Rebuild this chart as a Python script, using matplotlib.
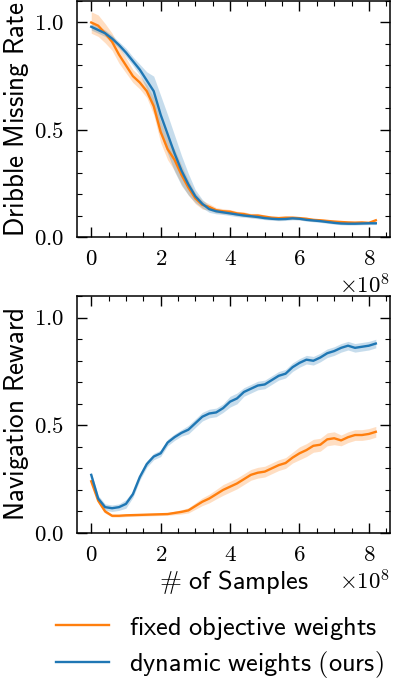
import matplotlib

matplotlib.use("Agg")
import matplotlib.pyplot as plt
import numpy as np

# training samples (x 1e8)
samples = [0.0, 0.2, 0.4, 0.6, 0.8, 1.0, 1.2, 1.4, 1.6, 1.8, 2.0, 2.2, 2.4, 2.6,
           2.8, 3.0, 3.2, 3.4, 3.6, 3.8, 4.0, 4.2, 4.4, 4.6, 4.8, 5.0, 5.2, 5.4,
           5.6, 5.8, 6.0, 6.2, 6.4, 6.6, 6.8, 7.0, 7.2, 7.4, 7.6, 7.8, 8.0, 8.2]

# dribble missing rate
dribble_fixed = [1.00, 0.985, 0.95, 0.91, 0.85, 0.80, 0.75, 0.72, 0.68, 0.61, 0.49, 0.41,
                 0.36, 0.29, 0.23, 0.18, 0.15, 0.14, 0.125, 0.12, 0.118, 0.11, 0.107, 0.10,
                 0.10, 0.095, 0.09, 0.088, 0.09, 0.09, 0.088, 0.085, 0.08, 0.078, 0.075,
                 0.072, 0.07, 0.068, 0.067, 0.068, 0.066, 0.078]
dribble_fixed_std = [0.05, 0.05, 0.045, 0.04, 0.04, 0.035, 0.03, 0.03, 0.03, 0.04, 0.05, 0.05,
                     0.05, 0.045, 0.035, 0.025, 0.02, 0.015, 0.012, 0.012, 0.01, 0.01, 0.01,
                     0.01, 0.01, 0.008, 0.008, 0.008, 0.008, 0.008, 0.007, 0.007, 0.007,
                     0.006, 0.006, 0.006, 0.006, 0.006, 0.006, 0.006, 0.006, 0.006]
dribble_dynamic = [0.98, 0.965, 0.95, 0.925, 0.895, 0.86, 0.82, 0.78, 0.73, 0.68, 0.57, 0.48,
                   0.39, 0.31, 0.245, 0.19, 0.155, 0.13, 0.12, 0.115, 0.11, 0.105, 0.10, 0.097,
                   0.093, 0.088, 0.085, 0.083, 0.084, 0.087, 0.085, 0.08, 0.077, 0.074, 0.07,
                   0.066, 0.063, 0.062, 0.062, 0.063, 0.064, 0.064]
dribble_dynamic_std = [0.015, 0.015, 0.015, 0.015, 0.015, 0.02, 0.02, 0.025, 0.04, 0.07, 0.09,
                       0.09, 0.085, 0.07, 0.05, 0.03, 0.02, 0.015, 0.012, 0.01, 0.01, 0.01,
                       0.008, 0.008, 0.008, 0.007, 0.007, 0.007, 0.007, 0.007, 0.006, 0.006,
                       0.006, 0.006, 0.006, 0.006, 0.006, 0.006, 0.006, 0.006, 0.006, 0.006]

# navigation reward
nav_fixed = [0.24, 0.15, 0.10, 0.08, 0.08, 0.082, 0.083, 0.084, 0.085, 0.086, 0.087, 0.088,
             0.093, 0.098, 0.105, 0.125, 0.145, 0.16, 0.18, 0.20, 0.215, 0.23, 0.25, 0.27,
             0.28, 0.285, 0.30, 0.315, 0.325, 0.35, 0.37, 0.385, 0.405, 0.41, 0.435, 0.44,
             0.43, 0.445, 0.455, 0.455, 0.46, 0.47]
nav_fixed_std = [0.01, 0.01, 0.008, 0.006, 0.006, 0.006, 0.006, 0.006, 0.006, 0.006, 0.006,
                 0.006, 0.008, 0.01, 0.012, 0.015, 0.018, 0.02, 0.022, 0.025, 0.025, 0.025,
                 0.025, 0.025, 0.025, 0.025, 0.025, 0.025, 0.025, 0.025, 0.03, 0.03, 0.03,
                 0.03, 0.03, 0.03, 0.025, 0.025, 0.025, 0.025, 0.025, 0.025]
nav_dynamic = [0.27, 0.16, 0.12, 0.115, 0.12, 0.135, 0.18, 0.26, 0.32, 0.355, 0.37, 0.42,
               0.445, 0.465, 0.48, 0.51, 0.54, 0.555, 0.56, 0.58, 0.61, 0.625, 0.655, 0.67,
               0.685, 0.69, 0.71, 0.73, 0.74, 0.77, 0.79, 0.805, 0.80, 0.815, 0.835, 0.845,
               0.86, 0.87, 0.86, 0.865, 0.87, 0.88]
nav_dynamic_std = [0.01, 0.015, 0.015, 0.015, 0.015, 0.02, 0.015, 0.015, 0.015, 0.015, 0.015,
                   0.015, 0.015, 0.015, 0.02, 0.02, 0.02, 0.02, 0.02, 0.02, 0.025, 0.025,
                   0.02, 0.02, 0.02, 0.02, 0.02, 0.02, 0.02, 0.02, 0.02, 0.02, 0.02, 0.02,
                   0.02, 0.02, 0.02, 0.02, 0.02, 0.02, 0.02, 0.02]

labels = [r"$\mathsf{fixed\ objective\ weights}$", r"$\mathsf{dynamic\ weights\ (ours)}$"]
colors = ["#ff7f0e", "#1f77b4"]

plt.rcParams.update({
    "font.family": "serif",
    "font.serif": ["cmr10", "DejaVu Serif"],
    "mathtext.fontset": "cm",
    "axes.formatter.use_mathtext": True,
    "font.size": 16.5,
    "axes.linewidth": 1.1,
    "xtick.direction": "in",
    "ytick.direction": "in",
    "xtick.top": True,
    "ytick.right": True,
    "xtick.minor.visible": True,
    "ytick.minor.visible": True,
    "xtick.major.size": 7,
    "ytick.major.size": 7,
    "xtick.minor.size": 3.5,
    "ytick.minor.size": 3.5,
    "xtick.major.width": 1.0,
    "ytick.major.width": 1.0,
    "xtick.minor.width": 0.8,
    "ytick.minor.width": 0.8,
    "xtick.major.pad": 9,
    "ytick.major.pad": 9.5,
})

x = np.array(samples) * 1e8

fig = plt.figure(figsize=(3.98, 6.92), dpi=100)
ax_top = fig.add_axes([0.1935, 0.6575, 0.7865, 0.341])
ax_bot = fig.add_axes([0.1935, 0.2298, 0.7865, 0.3422])

panels = [
    (ax_top, [dribble_fixed, dribble_dynamic], [dribble_fixed_std, dribble_dynamic_std],
     r"$\mathsf{Dribble\ Missing\ Rate}$"),
    (ax_bot, [nav_fixed, nav_dynamic], [nav_fixed_std, nav_dynamic_std],
     r"$\mathsf{Navigation\ Reward}$"),
]

for ax, means, stds, ylabel in panels:
    for mean, std, color, label in zip(means, stds, colors, labels):
        mean = np.array(mean)
        std = np.array(std)
        ax.fill_between(x, mean - std, mean + std, color=color, alpha=0.25, linewidth=0)
        ax.plot(x, mean, color=color, linewidth=1.7, label=label)
    ax.set_ylim(0, 1.1)
    ax.set_yticks([0.0, 0.5, 1.0])
    ax.yaxis.set_minor_locator(matplotlib.ticker.MultipleLocator(0.1))
    ax.xaxis.set_major_locator(matplotlib.ticker.MultipleLocator(2e8))
    ax.xaxis.set_minor_locator(matplotlib.ticker.MultipleLocator(0.5e8))
    ax.set_ylabel(ylabel, fontsize=19.5, labelpad=2)

ax_bot.set_xlabel(r"$\mathsf{\#\ of\ Samples}$", fontsize=19, labelpad=2)

handles, leg_labels = ax_top.get_legend_handles_labels()
fig.legend(handles, leg_labels, loc="center", bbox_to_anchor=(0.553, 0.0643),
           frameon=False, fontsize=19, handlelength=2.0, handletextpad=0.76,
           labelspacing=0.3)

fig.savefig("out.png", dpi=100)
